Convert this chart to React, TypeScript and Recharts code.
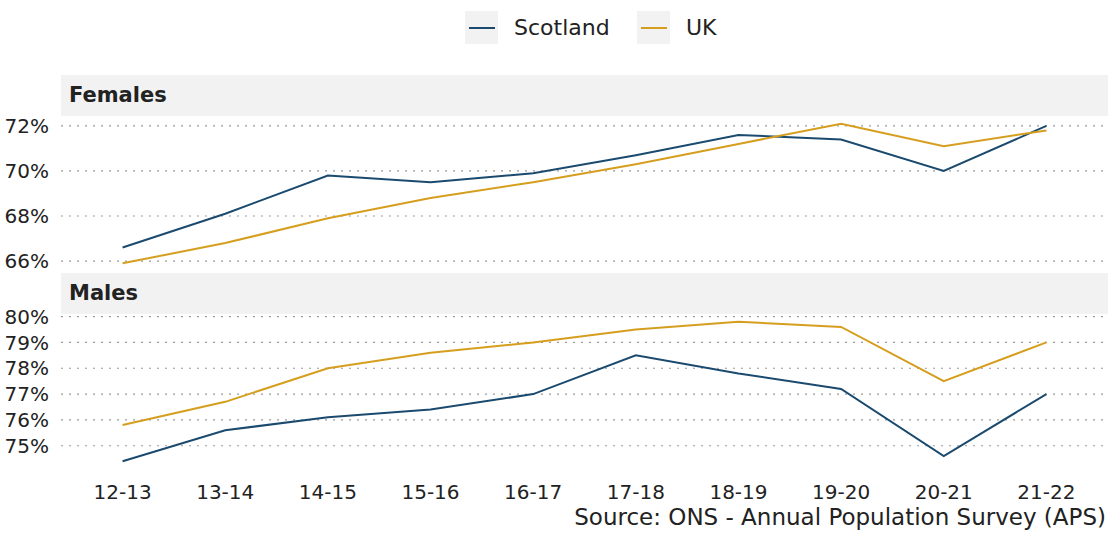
import { Line, LineChart, ReferenceLine, XAxis, YAxis } from "recharts";

const years = ["12-13", "13-14", "14-15", "15-16", "16-17", "17-18", "18-19", "19-20", "20-21", "21-22"];

const femalesScotland = [66.6, 68.1, 69.8, 69.5, 69.9, 70.7, 71.6, 71.4, 70.0, 72.0];
const femalesUK = [65.9, 66.8, 67.9, 68.8, 69.5, 70.3, 71.2, 72.1, 71.1, 71.8];
const malesScotland = [74.4, 75.6, 76.1, 76.4, 77.0, 78.5, 77.8, 77.2, 74.6, 77.0];
const malesUK = [75.8, 76.7, 78.0, 78.6, 79.0, 79.5, 79.8, 79.6, 77.5, 79.0];

const femaleTicks = [66, 68, 70, 72];
const maleTicks = [75, 76, 77, 78, 79, 80];

const SCOT = "#1b4a6f";
const UK = "#d69e1e";
const FONT = "'DejaVu Sans', sans-serif";
const TEXT = "#222";

const femalesData = years.map((y, i) => ({ i, year: y, scotland: femalesScotland[i], uk: femalesUK[i] }));
const malesData = years.map((y, i) => ({ i, year: y, scotland: malesScotland[i], uk: malesUK[i] }));

const tickStyle = { fontSize: 20, fill: TEXT, fontFamily: FONT };

function Strip({ top, label }: { top: number; label: string }) {
  return (
    <div
      style={{
        position: "absolute",
        left: 61,
        top,
        width: 1047,
        height: 41,
        background: "#f2f2f2",
        fontFamily: FONT,
        fontWeight: 700,
        fontSize: 21,
        color: TEXT,
        lineHeight: "41px",
        paddingLeft: 8,
        boxSizing: "border-box",
      }}
    >
      {label}
    </div>
  );
}

function LegendKey({ left, color, label }: { left: number; color: string; label: string }) {
  return (
    <div style={{ position: "absolute", left, top: 11, height: 33, display: "flex", alignItems: "center" }}>
      <div style={{ width: 33, height: 33, background: "#f2f2f2", display: "flex", alignItems: "center", justifyContent: "center" }}>
        <div style={{ width: 26, height: 2, background: color }} />
      </div>
      <span style={{ marginLeft: 16, fontFamily: FONT, fontSize: 22, color: TEXT }}>{label}</span>
    </div>
  );
}

const PAD = 20;

function Panel({
  data,
  domain,
  ticks,
  height,
  showX,
}: {
  data: typeof femalesData;
  domain: [number, number];
  ticks: number[];
  height: number;
  showX: boolean;
}) {
  return (
    <LineChart width={1110} height={height + PAD} data={data} margin={{ top: PAD, right: 2, bottom: 0, left: 0 }}>
      {ticks.map((t) => (
        <ReferenceLine key={t} y={t} stroke="#9a9a9a" strokeWidth={1.2} strokeDasharray="2 6" />
      ))}
      <XAxis
        dataKey="i"
        type="number"
        domain={[-0.6, 9.6]}
        ticks={years.map((_, i) => i)}
        tickFormatter={(v: number) => years[v]}
        hide={!showX}
        height={showX ? 42 : 0}
        axisLine={false}
        tickLine={false}
        tickMargin={10}
        tick={tickStyle}
        interval={0}
      />
      <YAxis
        type="number"
        domain={domain}
        ticks={ticks}
        interval={0}
        width={61}
        axisLine={false}
        tickLine={false}
        tickMargin={6}
        tick={tickStyle}
        tickFormatter={(v: number) => `${v}%`}
        allowDataOverflow
      />
      <Line type="linear" dataKey="scotland" stroke={SCOT} strokeWidth={2} dot={false} isAnimationActive={false} />
      <Line type="linear" dataKey="uk" stroke={UK} strokeWidth={2} dot={false} isAnimationActive={false} />
    </LineChart>
  );
}

export default function App() {
  return (
    <div style={{ position: "absolute", left: 0, top: 0, width: 1110, height: 533, background: "#fff", overflow: "hidden" }}>
      <LegendKey left={465} color={SCOT} label="Scotland" />
      <LegendKey left={637} color={UK} label="UK" />

      <Strip top={75} label="Females" />
      <Strip top={273} label="Males" />

      <div style={{ position: "absolute", left: 0, top: 116 - PAD }}>
        <Panel data={femalesData} domain={[65.47, 72.44]} ticks={femaleTicks} height={157} showX={false} />
      </div>

      <div style={{ position: "absolute", left: 0, top: 314 - PAD }}>
        <Panel data={malesData} domain={[74.1, 80.1]} ticks={maleTicks} height={197} showX />
      </div>

      <div
        style={{
          position: "absolute",
          right: 4,
          top: 504,
          fontFamily: FONT,
          fontSize: 23,
          color: TEXT,
          whiteSpace: "nowrap",
        }}
      >
        Source: ONS - Annual Population Survey (APS)
      </div>
    </div>
  );
}
